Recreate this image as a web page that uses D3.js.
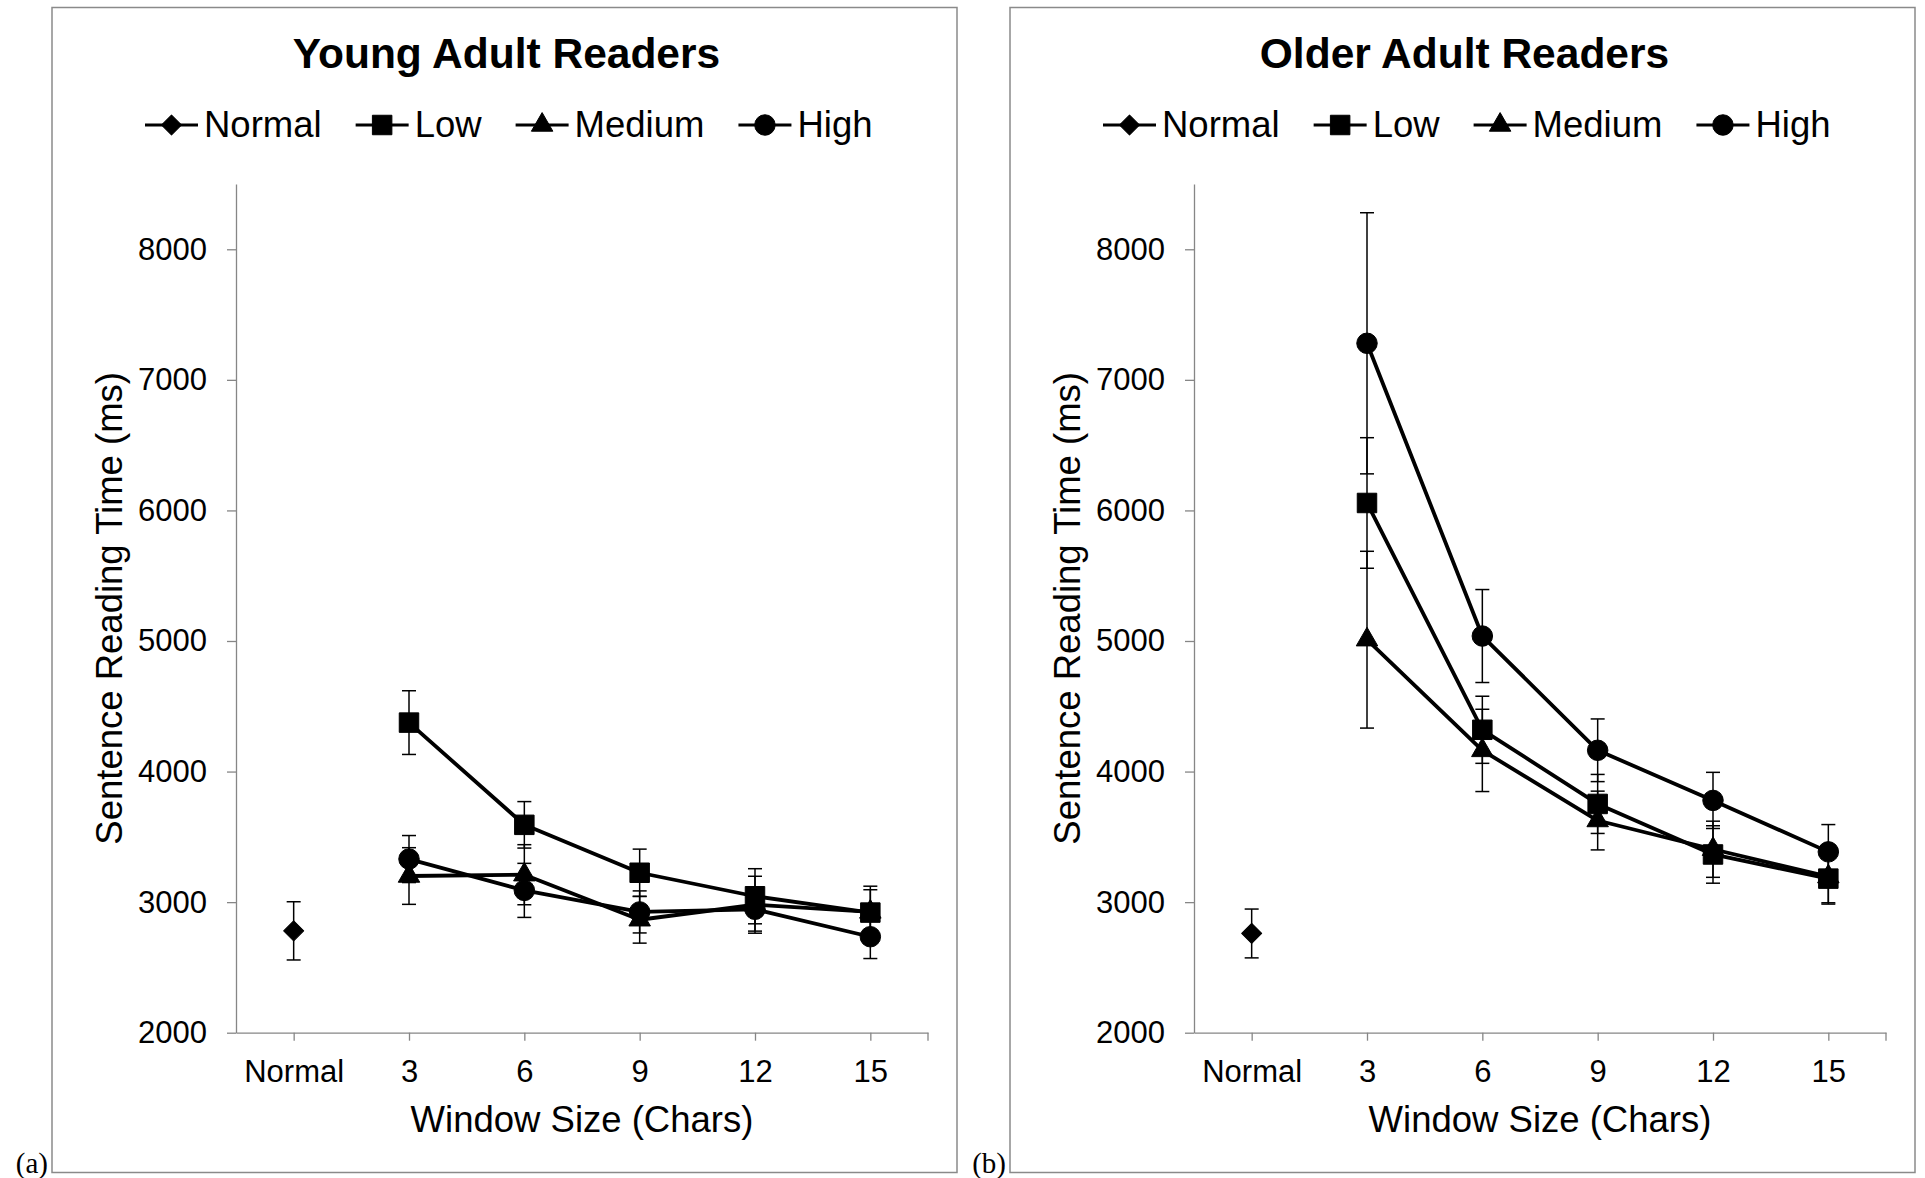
<!DOCTYPE html>
<meta charset="utf-8">
<style>
body {
  margin: 0px;
  background: #fff;
}
svg text {
  font-family: "Liberation Sans", Arial, sans-serif;
  fill: #000;
}
.title {
  font-size: 42.5px;
  font-weight: 700;
}
.legend text {
  font-size: 36.5px;
}
.axis-title {
  font-size: 36.5px;
}
.axis text {
  font-size: 31px;
  font-family: "Liberation Sans", Arial, sans-serif;
  fill: #000;
}
.axis path, .axis line {
  stroke: #868686;
  stroke-width: 1.3px;
}
.tag {
  font-family: "Liberation Serif", "Times New Roman", serif;
  font-size: 29px;
}
</style>
<body>
<script src="https://d3js.org/d3.v7.min.js"></script>
<script>
// x categories and tick labels
var categories = ["Normal", "3", "6", "9", "12", "15"]
var windowSizes = ["3", "6", "9", "12", "15"]
var yTicks = [2000, 3000, 4000, 5000, 6000, 7000, 8000]
var legendNames = ["Normal", "Low", "Medium", "High"]

// Young adult readers (ms), with error bar half-lengths
var youngNormal = 2780, youngNormalErr = 223
var youngLow = [4375, 3592, 3225, 3045, 2920]
var youngLowErr = [244, 178, 181, 211, 202]
var youngMedium = [3200, 3210, 2865, 2980, 2925]
var youngMediumErr = [217, 230, 179, 218, 170]
var youngHigh = [3330, 3090, 2925, 2945, 2735]
var youngHighErr = [180, 207, 161, 167, 167]

// Older adult readers (ms)
var olderNormal = 2760, olderNormalErr = 187
var olderLow = [6057, 4320, 3752, 3365, 3180]
var olderLowErr = [500, 257, 226, 220, 195]
var olderMedium = [5010, 4162, 3625, 3405, 3195]
var olderMediumErr = [677, 315, 225, 215, 200]
var olderHigh = [7280, 5038, 4163, 3779, 3385]
var olderHighErr = [1000, 356, 240, 215, 209]

var width = 1925,
    height = 1178

var panelW = 905,
    panelH = 1165,
    panelTop = 7.5,
    plotLeft = 184,   // y axis offset inside a panel
    plotTop = 176.5,
    plotW = 692,
    plotH = 848.7

var shapes = {
  Normal: { type: d3.symbolSquare, size: 200, rotate: 45 },
  Low: { type: d3.symbolSquare, size: 380, rotate: 0 },
  Medium: { type: d3.symbolTriangle, size: 200, rotate: 0 },
  High: { type: d3.symbolCircle, size: 330, rotate: 0 }
}

var svg = d3.select("body").append("svg")
    .attr("width", width)
    .attr("height", height)

function addMarker(sel, name) {
  var s = shapes[name]
  return sel.append("path")
      .attr("d", d3.symbol().type(s.type).size(s.size))
      .attr("fill", "#000")
      .attr("stroke", "#000")
      .attr("stroke-width", 1)
      .attr("stroke-linejoin", "round")
}

function drawPanel(left, title, tag, normal, normalErr, rows) {
  var panel = svg.append("g").attr("transform", "translate(" + left + "," + panelTop + ")")

  panel.append("rect")
      .attr("width", panelW)
      .attr("height", panelH)
      .attr("fill", "none")
      .attr("stroke", "#8a8a8a")
      .attr("stroke-width", 1.5)

  svg.append("text")
      .attr("class", "tag")
      .attr("x", left - 4)
      .attr("y", 1173)
      .attr("text-anchor", "end")
      .text(tag)

  panel.append("text")
      .attr("class", "title")
      .attr("x", panelW / 2 + 2)
      .attr("y", 60)
      .attr("text-anchor", "middle")
      .text(title)

  // legend
  var legend = panel.append("g").attr("class", "legend").attr("transform", "translate(93,117.5)")
  var lx = 0
  legendNames.forEach(function(name) {
    var item = legend.append("g").attr("transform", "translate(" + lx + ",0)")
    item.append("line")
        .attr("x1", 0).attr("x2", 53)
        .attr("stroke", "#000").attr("stroke-width", 3)
    addMarker(item, name)
        .attr("transform", "translate(26.5,0) rotate(" + shapes[name].rotate + ")")
    var t = item.append("text")
        .attr("x", 59)
        .attr("y", 12)
        .text(name)
    lx += 59 + t.node().getComputedTextLength() + 34
  })

  var g = panel.append("g").attr("transform", "translate(" + plotLeft + "," + plotTop + ")")

  var x = d3.scalePoint()
      .domain(categories)
      .range([0, plotW])
      .padding(0.5)

  var y = d3.scaleLinear()
      .domain([2000, 8500])
      .range([plotH, 0])

  g.append("g")
      .attr("class", "axis")
      .call(d3.axisLeft(y).tickValues(yTicks).tickFormat(d3.format("d"))
        .tickSize(9).tickSizeOuter(0).tickPadding(20))

  var xAxis = g.append("g")
      .attr("class", "axis")
      .attr("transform", "translate(0," + plotH + ")")
      .call(d3.axisBottom(x).tickSize(8).tickSizeOuter(0).tickPadding(19))
  xAxis.append("line")
      .attr("x1", plotW).attr("x2", plotW)
      .attr("y1", 0).attr("y2", 8)

  g.append("text")
      .attr("class", "axis-title")
      .attr("x", plotW / 2)
      .attr("y", plotH + 99)
      .attr("text-anchor", "middle")
      .text("Window Size (Chars)")

  g.append("text")
      .attr("class", "axis-title")
      .attr("transform", "translate(" + (70 - plotLeft) + "," + (plotH / 2) + ") rotate(-90)")
      .attr("text-anchor", "middle")
      .text("Sentence Reading Time (ms)")

  function errorBars(points) {
    var eb = g.append("g")
        .attr("stroke", "#000")
        .attr("stroke-width", 1.5)
    points.forEach(function(d) {
      var cx = x(d.cat)
      eb.append("line")
          .attr("x1", cx).attr("x2", cx)
          .attr("y1", y(d.v - d.e)).attr("y2", y(d.v + d.e))
      eb.append("line")
          .attr("x1", cx - 7).attr("x2", cx + 7)
          .attr("y1", y(d.v + d.e)).attr("y2", y(d.v + d.e))
      eb.append("line")
          .attr("x1", cx - 7).attr("x2", cx + 7)
          .attr("y1", y(d.v - d.e)).attr("y2", y(d.v - d.e))
    })
  }

  // Normal reading: single point
  var np = [{ cat: "Normal", v: normal, e: normalErr }]
  errorBars(np)
  np.forEach(function(d) {
    addMarker(g, "Normal")
        .attr("transform", "translate(" + x(d.cat) + "," + y(d.v) + ") rotate(45)")
  })

  var line = d3.line()
      .x(function(d) { return x(d.cat) })
      .y(function(d) { return y(d.v) })

  rows.forEach(function(r) {
    var pts = windowSizes.map(function(c, i) {
      return { cat: c, v: r.values[i], e: r.errors[i] }
    })
    errorBars(pts)
    g.append("path")
        .datum(pts)
        .attr("d", line)
        .attr("fill", "none")
        .attr("stroke", "#000")
        .attr("stroke-width", 3.8)
        .attr("stroke-linejoin", "round")
    pts.forEach(function(d) {
      addMarker(g, r.name)
          .attr("transform", "translate(" + x(d.cat) + "," + y(d.v) + ")")
    })
  })
}

drawPanel(52, "Young Adult Readers", "(a)", youngNormal, youngNormalErr, [
  { name: "Low", values: youngLow, errors: youngLowErr },
  { name: "Medium", values: youngMedium, errors: youngMediumErr },
  { name: "High", values: youngHigh, errors: youngHighErr }
])

drawPanel(1010, "Older Adult Readers", "(b)", olderNormal, olderNormalErr, [
  { name: "Low", values: olderLow, errors: olderLowErr },
  { name: "Medium", values: olderMedium, errors: olderMediumErr },
  { name: "High", values: olderHigh, errors: olderHighErr }
])
</script>
